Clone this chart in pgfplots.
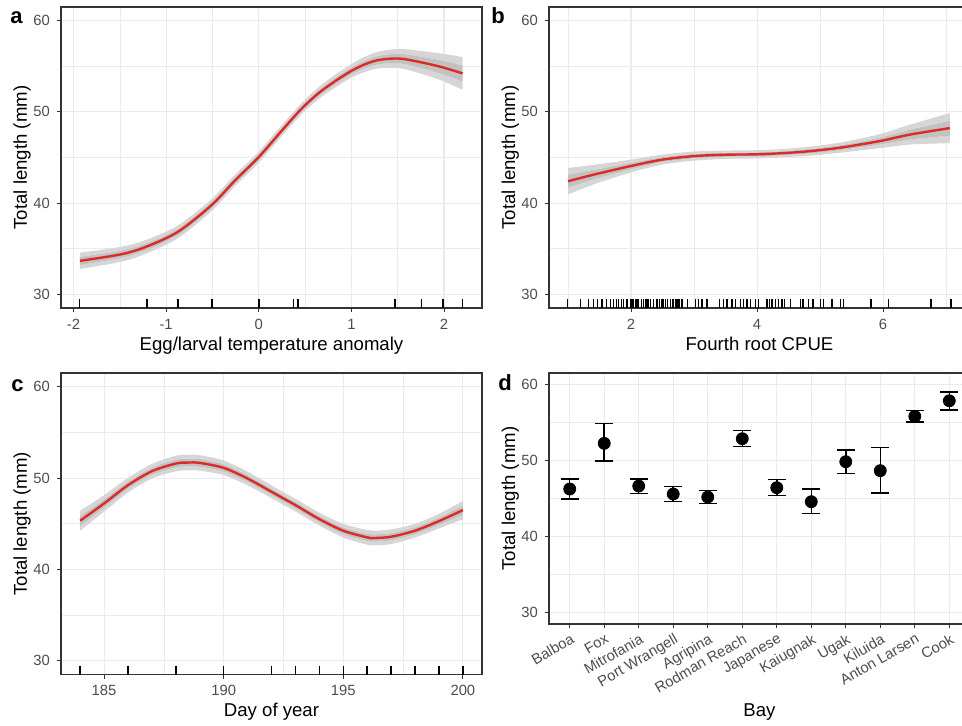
\documentclass[border=0pt]{standalone}
\usepackage{fontspec}
\setmainfont{Liberation Sans}
\usepackage{pgfplots}
\usepackage{pgfplotstable}
\pgfplotsset{compat=1.18}
\definecolor{gridc}{HTML}{EBEBEB}
\definecolor{framec}{HTML}{333333}
\definecolor{ticktxt}{HTML}{4D4D4D}
\definecolor{curvec}{HTML}{DB2B27}
\definecolor{bandout}{HTML}{D6D6D6}
\definecolor{bandin}{HTML}{C2C2C2}

\pgfplotstableread{
x y w
-1.93 33.67 0.9
-1.48 34.40 0.82
-1.21 35.24 0.75
-0.87 36.87 0.7
-0.51 39.78 0.65
-0.255 42.50 0.62
0 45.05 0.6
0.25 47.96 0.6
0.46 50.33 0.62
0.68 52.33 0.66
1.0 54.50 0.75
1.255 55.60 0.9
1.51 55.85 1.05
1.76 55.42 1.25
1.99 54.87 1.5
2.2 54.22 1.8
}\tabA

\pgfplotstableread{
x y w
1.0 42.40 1.45
1.43 43.16 1.05
2.0 44.07 0.7
2.49 44.76 0.55
3.01 45.16 0.5
3.54 45.31 0.45
4.0 45.35 0.45
4.44 45.49 0.45
4.86 45.71 0.5
5.28 46.04 0.55
5.65 46.44 0.65
6.0 46.87 0.8
6.44 47.53 1.1
7.06 48.22 1.65
}\tabB

\pgfplotstableread{
x y w
184 45.33 1.1
185 47.22 0.9
186 49.22 0.8
187 50.75 0.8
188 51.59 0.85
188.54 51.70 0.85
189 51.66 0.85
190 51.12 0.8
191 49.95 0.75
192 48.50 0.7
193 47.04 0.7
194 45.51 0.7
195 44.24 0.75
196 43.51 0.8
196.3 43.44 0.8
197 43.58 0.8
198 44.24 0.75
199 45.29 0.8
200 46.49 1.0
}\tabC

\pgfplotstableread{
x y ep em
1 46.25 1.31 1.32
2 52.25 2.58 2.32
3 46.64 0.92 0.96
4 45.59 0.96 0.96
5 45.19 0.84 0.83
6 52.86 1.10 1.05
7 46.42 1.05 1.05
8 44.58 1.67 1.53
9 49.84 1.57 1.58
10 48.66 3.06 2.94
11 55.80 0.78 0.75
12 57.85 1.14 1.18
}\tabD

\pgfplotsset{panel/.style={
  scale only axis, width=210.5pt, anchor=south west,
  axis line style={framec, line width=0.6pt},
  tick style={framec, line width=0.5pt},
  major tick length=2pt, minor tick length=0pt,
  tick align=outside, tick pos=left,
  xmajorgrids, ymajorgrids, yminorgrids,
  major grid style={gridc, line width=0.55pt},
  minor grid style={gridc, line width=0.3pt},
  ymin=28.5, ymax=61.5, ytick={30,40,50,60}, minor ytick={35,45,55},
  tick label style={font=\fontsize{7.4}{8}\selectfont, color=ticktxt},
  label style={font=\fontsize{9.3}{11}\selectfont, color=black},
  ylabel={Total length (mm)},
  ylabel style={at={(axis description cs:0,0.5)}, anchor=base, rotate=0, yshift=17pt},
  xlabel style={at={(axis description cs:0.5,0)}, anchor=base, yshift=-21pt},
  /pgf/number format/assume math mode=true,
}}
\pgfplotsset{rug/.style={only marks, mark=|, mark size=2.25pt, mark options={line width=0.75pt, black}}}
% band: stacked plots from y-w upwards
\newcommand{\band}[1]{%
\addplot[draw=none, stack plots=y, smooth] table[x=x, y expr=\thisrow{y}-\thisrow{w}] {#1};
\addplot[draw=none, fill=bandout, stack plots=y, smooth] table[x=x, y expr=0.5*\thisrow{w}] {#1} \closedcycle;
\addplot[draw=none, fill=bandin, stack plots=y, smooth] table[x=x, y expr=\thisrow{w}] {#1} \closedcycle;
\addplot[draw=none, fill=bandout, stack plots=y, smooth] table[x=x, y expr=0.5*\thisrow{w}] {#1} \closedcycle;
\addplot[curvec, line width=1.2pt, smooth, stack plots=false] table[x=x, y=y] {#1};
}

\begin{document}
\begin{tikzpicture}

% ---- a ----
\begin{axis}[panel, at={(30.5pt,208.5pt)}, height=150.5pt,
  xmin=-2.135, xmax=2.41, xtick={-2,-1,0,1,2}, minor xtick={-1.5,-0.5,0.5,1.5}, xminorgrids,
  xlabel={Egg/larval temperature anomaly}]
\band{\tabA}
\addplot[rug, stack plots=false] coordinates {(-1.935,28.99) (-1.208,28.99) (-0.874,28.99) (-0.504,28.99) (0,28.99) (0.373,28.99) (0.421,28.99) (1.47,28.99) (1.758,28.99) (1.99,28.99) (2.2,28.99)};
\end{axis}

% ---- b ----
\begin{axis}[panel, at={(274.5pt,208.5pt)}, height=150.5pt,
  xmin=0.698, xmax=7.38, xtick={2,4,6}, minor xtick={1,3,5,7}, xminorgrids,
  xlabel={Fourth root CPUE}]
\band{\tabB}
\addplot[rug, stack plots=false] coordinates {(0.995,28.99) (1.196,28.99) (1.328,28.99) (1.407,28.99) (1.471,28.99) (1.540,28.99) (1.608,28.99) (1.672,28.99) (1.725,28.99) (1.767,28.99) (1.804,28.99) (1.847,28.99) (1.884,28.99) (1.937,28.99) (1.989,28.99) (2.016,28.99) (2.042,28.99) (2.069,28.99) (2.095,28.99) (2.122,28.99) (2.164,28.99) (2.201,28.99) (2.238,28.99) (2.270,28.99) (2.307,28.99) (2.360,28.99) (2.413,28.99) (2.455,28.99) (2.492,28.99) (2.519,28.99) (2.545,28.99) (2.582,28.99) (2.624,28.99) (2.667,28.99) (2.704,28.99) (2.730,28.99) (2.762,28.99) (2.810,28.99) (2.899,28.99) (3.021,28.99) (3.074,28.99) (3.127,28.99) (3.206,28.99) (3.407,28.99) (3.471,28.99) (3.524,28.99) (3.603,28.99) (3.656,28.99) (3.735,28.99) (3.788,28.99) (3.841,28.99) (3.894,28.99) (3.979,28.99) (4.026,28.99) (4.159,28.99) (4.201,28.99) (4.238,28.99) (4.291,28.99) (4.344,28.99) (4.397,28.99) (4.434,28.99) (4.529,28.99) (4.688,28.99) (4.730,28.99) (4.820,28.99) (4.889,28.99) (5.005,28.99) (5.058,28.99) (5.190,28.99) (5.323,28.99) (5.376,28.99) (5.810,28.99) (6.090,28.99) (6.762,28.99) (7.079,28.99)};
\end{axis}

% ---- c ----
\begin{axis}[panel, at={(30.5pt,25.25pt)}, height=150.75pt,
  xmin=183.2, xmax=200.8, xtick={185,190,195,200}, minor xtick={187.5,192.5,197.5}, xminorgrids,
  xlabel={Day of year}]
\band{\tabC}
\addplot[rug, stack plots=false] coordinates {(184,28.99) (186,28.99) (188,28.99) (190,28.99) (192,28.99) (193,28.99) (194,28.99) (195,28.99) (196,28.99) (197,28.99) (198,28.99) (199,28.99) (200,28.99)};
\end{axis}

% ---- d ----
\begin{axis}[panel, at={(274.5pt,50.5pt)}, height=125.5pt,
  xmin=0.4, xmax=12.6, xtick={1,...,12},
  xticklabels={Balboa, Fox, Mitrofania, Port Wrangell, Agripina, Rodman Reach, Japanese, Kaiugnak, Ugak, Kiluida, Anton Larsen, Cook},
  xticklabel style={rotate=30, anchor=north east, inner sep=1pt, yshift=-1pt},
  xlabel={Bay}, xlabel style={yshift=-25.3pt}]
\addplot[black, only marks, mark=*, mark size=3pt,
  error bars/.cd, y dir=both, y explicit,
  error bar style={line width=0.75pt, black},
  error mark options={rotate=90, line width=0.75pt, mark size=4.5pt, black}]
  table[x=x, y=y, y error plus=ep, y error minus=em] {\tabD};
\end{axis}

\node[inner sep=0pt, anchor=base west, font=\fontsize{11}{13}\selectfont\bfseries] at (5pt,350.5pt) {a};
\node[inner sep=0pt, anchor=base west, font=\fontsize{11}{13}\selectfont\bfseries] at (245.5pt,350.5pt) {b};
\node[inner sep=0pt, anchor=base west, font=\fontsize{11}{13}\selectfont\bfseries] at (5.5pt,167pt) {c};
\node[inner sep=0pt, anchor=base west, font=\fontsize{11}{13}\selectfont\bfseries] at (249pt,167.5pt) {d};

\pgfresetboundingbox
\useasboundingbox (0,0) rectangle (481pt,362.5pt);
\end{tikzpicture}
\end{document}
